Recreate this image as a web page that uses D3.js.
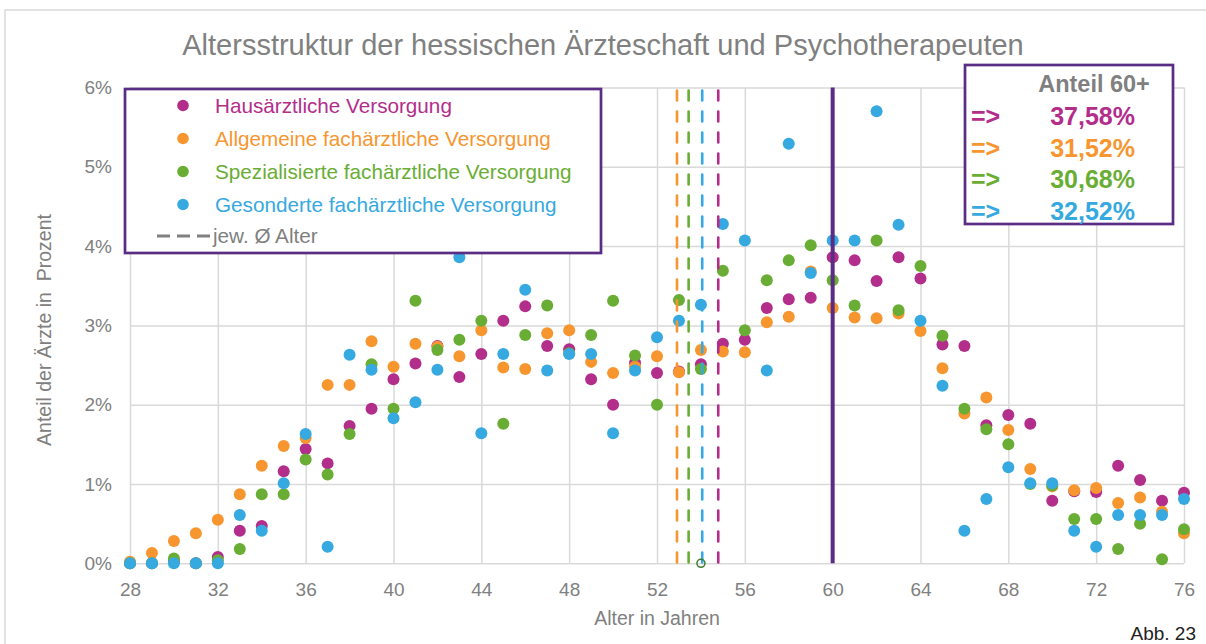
<!DOCTYPE html>
<html>
<head>
<meta charset="utf-8">
<script src="https://cdn.jsdelivr.net/npm/d3@7"></script>
<style>
  body { margin: 0; background: #fff; }
  text { font-family: "Liberation Sans", Arial, sans-serif; }
</style>
</head>
<body>
<svg id="chart" width="1206" height="644"></svg>
<script>
const ages = d3.range(28, 77);

// share of doctors per age (%)
const haus = [0, 0, 0.03, 0, 0.08, 0.41, 0.47, 1.16, 1.44, 1.26, 1.73, 1.95, 2.32, 2.52, 2.74, 2.35, 2.64, 3.06, 3.24, 2.74, 2.70, 2.32, 2.00, 2.53, 2.40, 2.42, 2.51, 2.77, 2.82, 3.22, 3.33, 3.35, 3.86, 3.82, 3.56, 3.86, 3.59, 2.76, 2.74, 1.74, 1.87, 1.76, 0.79, 0.91, 0.90, 1.23, 1.05, 0.79, 0.89];
const allgemein = [0.02, 0.13, 0.28, 0.38, 0.55, 0.87, 1.23, 1.48, 1.58, 2.25, 2.25, 2.80, 2.48, 2.77, 2.73, 2.61, 2.94, 2.47, 2.45, 2.90, 2.94, 2.54, 2.40, 2.48, 2.61, 2.41, 2.69, 2.67, 2.66, 3.04, 3.11, 3.68, 3.22, 3.10, 3.09, 3.15, 2.93, 2.46, 1.89, 2.09, 1.68, 1.19, 0.97, 0.92, 0.95, 0.76, 0.83, 0.65, 0.38];
const spezial = [0, 0, 0.06, 0, 0.04, 0.18, 0.87, 0.87, 1.31, 1.12, 1.63, 2.51, 1.95, 3.31, 2.69, 2.82, 3.06, 1.76, 2.88, 3.25, 2.65, 2.88, 3.31, 2.62, 2.00, 3.32, 2.45, 3.69, 2.94, 3.57, 3.82, 4.01, 3.57, 3.25, 4.07, 3.19, 3.75, 2.87, 1.95, 1.69, 1.50, 1.00, 0.98, 0.56, 0.56, 0.18, 0.50, 0.05, 0.43];
const gesondert = [0, 0, 0, 0, 0, 0.61, 0.41, 1.01, 1.63, 0.21, 2.63, 2.44, 1.83, 2.03, 2.44, 3.86, 1.64, 2.64, 3.45, 2.43, 2.64, 2.64, 1.64, 2.43, 2.85, 3.06, 3.26, 4.28, 4.07, 2.43, 5.29, 3.66, 4.07, 4.07, 5.70, 4.27, 3.06, 2.24, 0.41, 0.81, 1.21, 1.01, 1.01, 0.41, 0.21, 0.61, 0.61, 0.61, 0.81];

const seriesNames = ["Hausärztliche Versorgung", "Allgemeine fachärztliche Versorgung", "Spezialisierte fachärztliche Versorgung", "Gesonderte fachärztliche Versorgung"];
const seriesValues = [haus, allgemein, spezial, gesondert];
const colors = ["#b32d8b", "#f7962f", "#69ad34", "#36a9e1"];
const meanAges = [54.79, 52.91, 53.44, 54.06];
const share60 = ["37,58%", "31,52%", "30,68%", "32,52%"];

const xTicks = d3.range(28, 77, 4);
const yTicks = [0, 1, 2, 3, 4, 5, 6];

const svg = d3.select("#chart");
const gray = "#808080", grid = "#d9d9d9", purple = "#5b2c83";

// outer frame
svg.append("rect").attr("x", 5).attr("y", 10).attr("width", 1300).attr("height", 700)
  .attr("fill", "none").attr("stroke", grid).attr("stroke-width", 1.5);

const x = d3.scaleLinear().domain([28, 76]).range([130, 1184]);
const y = d3.scaleLinear().domain([0, 6]).range([563.3, 87.5]);

// grid
svg.append("g").attr("transform", `translate(0,${y(0)})`)
  .call(d3.axisBottom(x).tickValues(xTicks).tickSize(-(y(0) - y(6))).tickFormat(""))
  .call(g => g.select(".domain").remove())
  .call(g => g.selectAll("line").attr("stroke", grid).attr("stroke-width", 1.5));
svg.append("g").attr("transform", `translate(${x(28)},0)`)
  .call(d3.axisLeft(y).tickValues(yTicks).tickSize(-(x(76) - x(28))).tickFormat(""))
  .call(g => g.select(".domain").remove())
  .call(g => g.selectAll("line").attr("stroke", grid).attr("stroke-width", 1.5));

// tick labels
svg.append("g").attr("transform", `translate(0,${y(0)})`)
  .call(d3.axisBottom(x).tickValues(xTicks).tickSize(0).tickPadding(19).tickFormat(d3.format("d")))
  .call(g => g.select(".domain").remove())
  .call(g => g.selectAll("text").attr("fill", gray).attr("font-size", 19));
svg.append("g").attr("transform", `translate(${x(28)},0)`)
  .call(d3.axisLeft(y).tickValues(yTicks).tickSize(0).tickPadding(18).tickFormat(d => d + "%"))
  .call(g => g.select(".domain").remove())
  .call(g => g.selectAll("text").attr("fill", gray).attr("font-size", 19));

// axis titles
svg.append("text").attr("x", 657).attr("y", 625).attr("text-anchor", "middle")
  .attr("fill", gray).attr("font-size", 19.5).text("Alter in Jahren");
svg.append("text").attr("transform", "translate(51,330) rotate(-90)").attr("text-anchor", "middle")
  .attr("fill", gray).attr("font-size", 19.5).attr("xml:space", "preserve").text("Anteil der Ärzte in  Prozent");

// title
svg.append("text").attr("x", 603).attr("y", 55).attr("text-anchor", "middle")
  .attr("fill", gray).attr("font-size", 29).text("Altersstruktur der hessischen Ärzteschaft und Psychotherapeuten");

// points
seriesValues.forEach((vals, i) => {
  svg.append("g").selectAll("circle").data(ages.map((a, j) => [a, vals[j]])).join("circle")
    .attr("cx", d => x(d[0])).attr("cy", d => y(d[1])).attr("r", 6)
    .attr("fill", colors[i]);
});

// mean age lines
svg.append("g").selectAll("line").data(meanAges).join("line")
  .attr("x1", d => x(d)).attr("x2", d => x(d)).attr("y1", y(6) + 3).attr("y2", y(0))
  .attr("stroke", (d, i) => colors[i]).attr("stroke-width", 2.6)
  .attr("stroke-dasharray", "10 11").attr("stroke-linecap", "round");

// 60 marker
svg.append("line").attr("x1", x(60)).attr("x2", x(60)).attr("y1", y(6)).attr("y2", y(0))
  .attr("stroke", purple).attr("stroke-width", 4);

svg.append("circle").attr("cx", x(54)).attr("cy", y(0)).attr("r", 4)
  .attr("fill", "none").attr("stroke", "#3d7d2b").attr("stroke-width", 1.5);

// legend
const leg = svg.append("g");
leg.append("rect").attr("x", 125).attr("y", 89).attr("width", 476).attr("height", 164)
  .attr("fill", "#fff").attr("stroke", purple).attr("stroke-width", 2.7);
seriesNames.forEach((name, i) => {
  const ly = 105.5 + i * 33;
  leg.append("circle").attr("cx", 183).attr("cy", ly).attr("r", 5.8).attr("fill", colors[i]);
  leg.append("text").attr("x", 215).attr("y", ly + 7).attr("fill", colors[i])
    .attr("font-size", 20.7).text(name);
});
leg.append("line").attr("x1", 157).attr("x2", 210).attr("y1", 236).attr("y2", 236)
  .attr("stroke", gray).attr("stroke-width", 3).attr("stroke-dasharray", "13 7");
leg.append("text").attr("x", 213).attr("y", 243).attr("fill", gray)
  .attr("font-size", 20.7).text("jew. Ø Alter");

// share 60+ box
const box = svg.append("g");
box.append("rect").attr("x", 965).attr("y", 65).attr("width", 208).attr("height", 159)
  .attr("fill", "#fff").attr("stroke", purple).attr("stroke-width", 2.7);
box.append("text").attr("x", 1094).attr("y", 92).attr("text-anchor", "middle")
  .attr("fill", gray).attr("font-size", 23.5).attr("font-weight", "bold").text("Anteil 60+");
share60.forEach((s, i) => {
  const by = 125 + i * 31.5;
  box.append("text").attr("x", 971).attr("y", by).attr("fill", colors[i])
    .attr("font-size", 25).attr("font-weight", "bold").text("=>");
  box.append("text").attr("x", 1135).attr("y", by).attr("text-anchor", "end").attr("fill", colors[i])
    .attr("font-size", 25).attr("font-weight", "bold").text(s);
});

svg.append("text").attr("x", 1196).attr("y", 640).attr("text-anchor", "end")
  .attr("fill", "#222").attr("font-size", 19).text("Abb. 23");
</script>
</body>
</html>
